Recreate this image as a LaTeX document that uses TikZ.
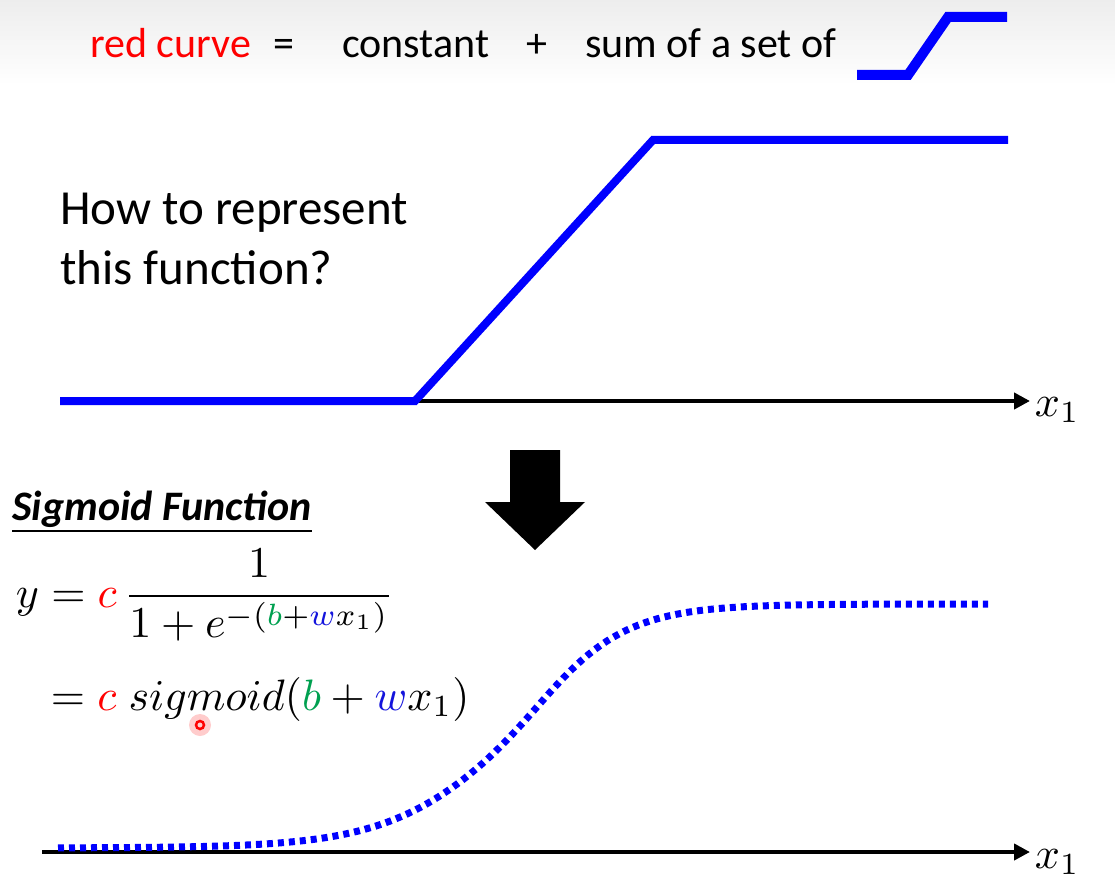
\documentclass[tikz,border=0pt]{standalone}
\usepackage[no-math]{fontspec}
\setmainfont{Carlito}
\usepackage{amsmath}
\usetikzlibrary{arrows.meta}
\definecolor{curveblue}{RGB}{0,0,255}
\definecolor{termgreen}{RGB}{0,160,80}
\definecolor{termblue}{RGB}{20,20,220}

\begin{document}
\begin{tikzpicture}[x=1pt,y=-1pt,
  axis/.style={line width=4, -{Triangle[length=16pt,width=16pt]}},
  txt/.style={anchor=base west, inner sep=0pt, font=\fontsize{42}{50}\selectfont},
  mth/.style={anchor=base west, inner sep=0pt, scale=4.4}]
\useasboundingbox (0,0) rectangle (1115,882);
\shade[top color=black!7, bottom color=white] (0,0) rectangle (1115,85);
% top line
\node[txt, text=red] (red) at (90,58) {red curve};
\node[txt] (eq) at (273,58) {=};
\node[txt] (const) at (342,58) {constant};
\node[txt] (plus) at (526,58) {+};
\node[txt] (sum) at (585,58) {sum of a set of};
\draw[curveblue, line width=10] (857,75) -- (908,75) -- (948,17) -- (1007,17);
% hard sigmoid
\node[anchor=base west, inner sep=0pt, align=left, font=\fontsize{49}{60}\selectfont] (ask) at (60,285) {How to represent\\this function?};
\coordinate (o1) at (60,401);
\coordinate (e1) at (1030,401);
\draw[axis] (o1) -- (e1);
\node[mth, anchor=west] (x1a) at (1034,410) {$x_1$};
\draw[curveblue, line width=8] (o1) -- (415,401) -- (653,140) -- (1008,140);
% block arrow
\fill (510,450) -- (560,450) -- (560,502) -- (585,502) -- (535,550) -- (485,502) -- (510,502) -- cycle;
% formula
\node[anchor=base west, inner sep=0pt, font=\bfseries\itshape\fontsize{42}{50}\selectfont] (title) at (12,520) {Sigmoid Function};
\draw[line width=1.5] ([yshift=-11pt]title.base west) -- ([yshift=-11pt]title.base east);
\node[mth] (f1) at (15,607) {$\displaystyle y = {\color{red}c}\,\frac{1}{1+e^{-({\color{termgreen}b}+{\color{termblue}w}x_1)}}$};
\node[mth] (f2) at (50,710) {$= {\color{red}c}\; sigmoid({\color{termgreen}b} + {\color{termblue}w}x_1)$};
\fill[red!20] (200,725) circle (11);
\draw[red, line width=2.5] (200,725) circle (4);
% sigmoid
\coordinate (o2) at (42,852);
\coordinate (e2) at (1030,852);
\draw[axis] (o2) -- (e2);
\node[mth, anchor=west] (x1b) at (1034,862) {$x_1$};
\draw[curveblue, line width=7, dash pattern=on 6 off 5] plot[domain=58:988, samples=150] (\x, {848-244/(1+exp(-(0.018+0.002*tanh((\x-520)/60))*(\x-520)))});
\end{tikzpicture}
\end{document}
